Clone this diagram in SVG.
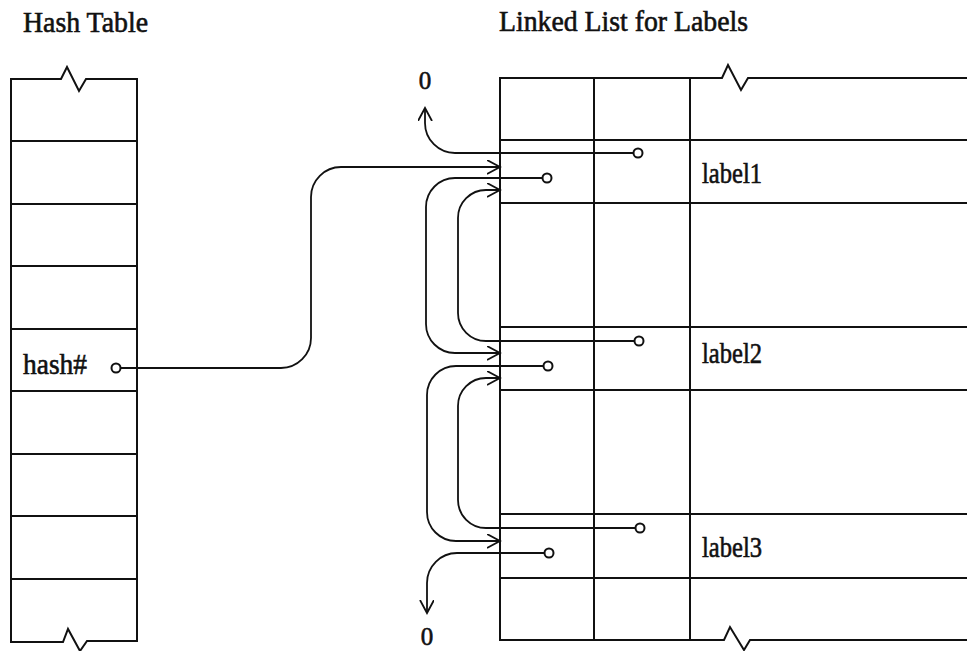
<svg xmlns="http://www.w3.org/2000/svg" width="967" height="651" viewBox="0 0 967 651">
<style>
.ln{fill:none;stroke:#111;stroke-width:2;stroke-linejoin:miter}
.cn{fill:none;stroke:#111;stroke-width:1.8}
.dot{fill:#fff;stroke:#111;stroke-width:2}
.t{font-family:"Liberation Serif","Times New Roman",serif;fill:#111;stroke:#111;stroke-width:0.6}
.h{font-size:29px}
.lb{font-size:30px}
.z{font-size:25px}
</style>
<defs>
<marker id="arr" markerUnits="userSpaceOnUse" markerWidth="16" markerHeight="16" refX="13" refY="7" orient="auto" viewBox="0 0 16 16">
<path d="M0,0 L13,7 L0,14" fill="none" stroke="#111" stroke-width="1.8"/>
</marker>
</defs>
<rect width="967" height="651" fill="#fff"/>
<g id="titles">
<text class="t h" x="23" y="32" textLength="125" lengthAdjust="spacingAndGlyphs">Hash  Table</text>
<text class="t h" x="499" y="31" textLength="249" lengthAdjust="spacingAndGlyphs">Linked  List  for  Labels</text>
</g>
<g id="hash-table">
<path class="ln" d="M11,79 H61 L67,67 L79,91 L86,79 H137 V641 H87 L80,651 L68,629 L63,642 H11 Z"/>
<path class="ln" d="M11,141 H137 M11,204 H137 M11,266 H137 M11,329 H137 M11,391 H137 M11,454 H137 M11,516 H137 M11,579 H137"/>
<text class="t lb" x="23" y="374" textLength="64" lengthAdjust="spacingAndGlyphs">hash#</text>
</g>
<g id="linked-list">
<path class="ln" d="M967,78 H748 L741,90 L728,65 L722,78 H500 V640 H724 L730,627 L744,650 L750,640 H967"/>
<path class="ln" d="M594,78 V640 M690,78 V640"/>
<path class="ln" d="M500,140 H967 M500,203 H967 M500,327 H967 M500,390 H967 M500,514 H967 M500,578 H967"/>
</g>
<g id="label1">
<text class="t lb" x="702" y="183" textLength="60" lengthAdjust="spacingAndGlyphs">label1</text>
</g>
<g id="label2">
<text class="t lb" x="702" y="363" textLength="60" lengthAdjust="spacingAndGlyphs">label2</text>
</g>
<g id="label3">
<text class="t lb" x="702" y="557" textLength="60" lengthAdjust="spacingAndGlyphs">label3</text>
</g>
<g id="null-top">
<text class="t z" x="425" y="89" text-anchor="middle">0</text>
</g>
<g id="null-bottom">
<text class="t z" x="427" y="645" text-anchor="middle">0</text>
</g>
<g id="connectors">
<path class="cn" d="M120,368 H281 A30 30 0 0 0 311 338 V197 A30 30 0 0 1 341 167 H500" marker-end="url(#arr)"/>
<path class="cn" d="M634,153 H455 A30 30 0 0 1 425 123 V108" marker-end="url(#arr)"/>
<path class="cn" d="M543,178 H455 A29 29 0 0 0 426 207 V324 A29 29 0 0 0 455 353 H500" marker-end="url(#arr)"/>
<path class="cn" d="M635,341 H486 A28 28 0 0 1 458 313 V218 A28 28 0 0 1 486 190 H500" marker-end="url(#arr)"/>
<path class="cn" d="M544,366 H456 A29 29 0 0 0 427 395 V512 A29 29 0 0 0 456 541 H500" marker-end="url(#arr)"/>
<path class="cn" d="M636,528 H486 A28 28 0 0 1 458 500 V406 A28 28 0 0 1 486 378 H500" marker-end="url(#arr)"/>
<path class="cn" d="M545,553 H457 A30 30 0 0 0 427 583 V613" marker-end="url(#arr)"/>
<circle class="dot" cx="116" cy="368" r="4.5"/>
<circle class="dot" cx="638" cy="153" r="4.5"/>
<circle class="dot" cx="547" cy="178" r="4.5"/>
<circle class="dot" cx="639" cy="341" r="4.5"/>
<circle class="dot" cx="548" cy="366" r="4.5"/>
<circle class="dot" cx="640" cy="528" r="4.5"/>
<circle class="dot" cx="549" cy="553" r="4.5"/>
</g>
</svg>
